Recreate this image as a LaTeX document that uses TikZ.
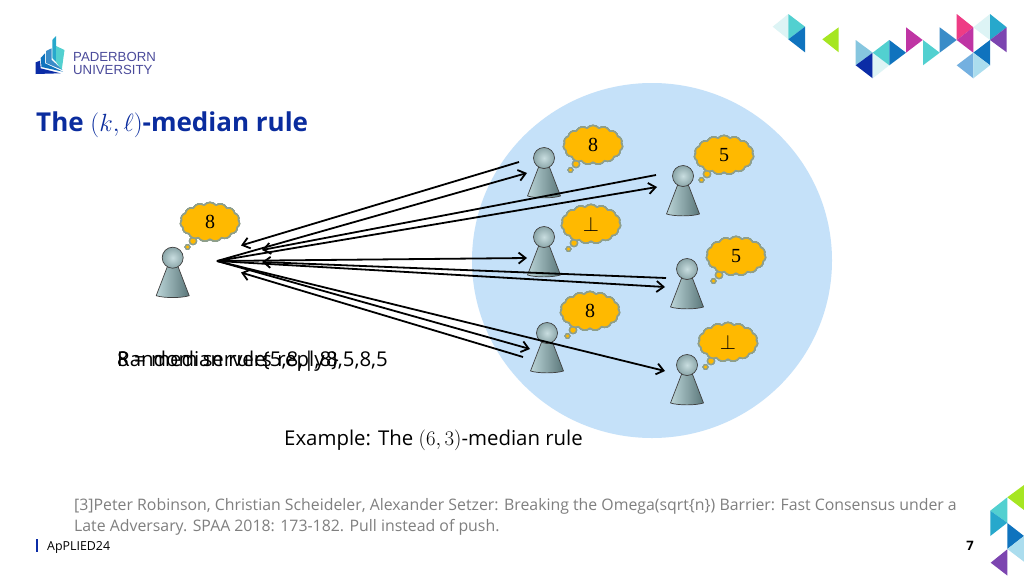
\documentclass[tikz,border=0pt]{standalone}
\usepackage{fontspec}
\usetikzlibrary{shapes.symbols,arrows.meta}
\setmainfont{Open Sans}
\newfontfamily\digitfont{Liberation Serif}
\newfontfamily\logofont{Liberation Sans}
\definecolor{titleblue}{HTML}{0A2C9E}
\definecolor{discblue}{HTML}{C5E1F9}
\definecolor{cloudfill}{HTML}{FFB900}
\definecolor{cloudedge}{HTML}{8E9F8C}
\definecolor{pawnlight}{HTML}{BBD5D8}
\definecolor{pawndark}{HTML}{5A7679}
\definecolor{footgray}{HTML}{7F7F7F}
\definecolor{logotext}{HTML}{4B4B9B}
\definecolor{tblue}{HTML}{0F73BE}
\definecolor{tteal}{HTML}{52D0D0}
\definecolor{tpale}{HTML}{DDF4F5}
\definecolor{tlime}{HTML}{A6E622}
\definecolor{tnavy}{HTML}{0B2CA6}
\definecolor{tmag}{HTML}{BF35A4}
\definecolor{tpink}{HTML}{EE3C85}
\definecolor{tpurple}{HTML}{7C45B0}
\definecolor{tsky}{HTML}{86C6DF}
\definecolor{tmid}{HTML}{3A8CC8}
\definecolor{ttb}{HTML}{27A8CC}
\definecolor{tlt}{HTML}{74B0E0}
\definecolor{tpb}{HTML}{ABDDEE}
\tikzset{
  thought/.style={cloud,cloud puffs=15,cloud puff arc=100,aspect=1.6,draw=cloudedge,fill=cloudfill,line width=1.5pt,
    minimum width=59pt,minimum height=39pt,inner sep=0pt,font=\digitfont\fontsize{20}{24}\selectfont},
  puff/.style={circle,draw=cloudedge,fill=cloudfill,line width=1.2pt,inner sep=0pt},
  msg/.style={-{Straight Barb[length=7pt,width=11pt]},line width=1.8pt,black},
  body/.style={font=\fontsize{20.4}{24}\selectfont,anchor=base west,inner sep=0pt},
  foot/.style={font=\fontsize{15.85}{20}\selectfont,anchor=base west,inner sep=0pt,text=footgray},
}
\newcommand{\pawn}[3]{%
  \draw[draw=black!75,line width=.7pt,left color=pawnlight,right color=pawndark,shading angle=90]
    (#2-5,#3+8)--(#2-16.5,#3+38).. controls (#2-8,#3+40.5) and (#2+8,#3+40.5) ..(#2+16.5,#3+38)--(#2+5,#3+8)--cycle;
  \node[circle,draw=black!75,line width=.7pt,inner sep=0pt,minimum size=21pt,
    inner color=pawnlight!80!white,outer color=pawndark!50!pawnlight] (#1) at (#2,#3) {};
}
\newcommand{\tri}[4]{\fill[#1] #2--#3--#4--cycle;}
\begin{document}
\begin{tikzpicture}[x=1pt,y=-1pt,line join=round]
\useasboundingbox (0,0) rectangle (1024,576);
\fill[white] (0,0) rectangle (1024,576);
% logo
\fill[tnavy] (35.7,62.3)--(40,60.7)--(40.7,68.3)--(60.7,73.3)--(35.7,74)--cycle;
\fill[tblue] (40.7,58)--(45,53.3)--(45,63.3)--(63,71.7)--(41.5,67)--cycle;
\fill[tmid] (46,51)--(51.7,48.3)--(51.7,60)--(62.7,70)--(46,63)--cycle;
\fill[ttb] (52.3,40)--(56,36)--(56,62)--(52.3,58)--cycle;
\fill[tteal] (56,46)--(64.5,50)--(61.7,70)--(56,62)--cycle;
\node[anchor=base west,inner sep=0pt,text=logotext,font=\logofont\fontsize{13.2}{14}\selectfont] (logoa) at (73,61) {PADERBORN};
\node[anchor=base west,inner sep=0pt,text=logotext,font=\logofont\fontsize{13.2}{14}\selectfont] (logob) at (73,74) {UNIVERSITY};
% corner triangles
\tri{tpale}{(772.7,26.7)}{(788.3,14)}{(788.3,39.3)}
\tri{tteal}{(788.3,14)}{(805,26.7)}{(788.3,39.3)}
\tri{tblue}{(788.3,39.3)}{(805,26.7)}{(805,52.3)}
\tri{tlime}{(822.3,39.3)}{(838.7,27.3)}{(838.7,52.3)}
\tri{tsky}{(855.7,40)}{(872.7,52.7)}{(855.7,65.3)}
\tri{tnavy}{(855.7,65.3)}{(872.7,52.7)}{(872.7,78.3)}
\tri{tpale}{(872.7,52.7)}{(889.3,65.3)}{(872.7,78.3)}
\tri{tteal}{(872.7,52.7)}{(889.3,40)}{(889.3,65.3)}
\tri{tblue}{(889.3,40)}{(906,52.7)}{(889.3,65.3)}
\tri{tmag}{(906,27.3)}{(922.7,40)}{(906,52.7)}
\tri{tteal}{(923,40)}{(939.7,52.7)}{(923,65.3)}
\tri{tmid}{(939.7,27.3)}{(956.7,40)}{(939.7,52.7)}
\tri{tpink}{(956.7,14)}{(973.3,27.3)}{(956.7,40)}
\tri{tmag}{(956.7,40)}{(973.3,27.3)}{(973.3,52.7)}
\tri{tpale}{(973.3,27.3)}{(990,14)}{(990,40)}
\tri{ttb}{(990,14)}{(1006.7,27.3)}{(990,40)}
\tri{tpurple}{(990,40)}{(1006.7,27.3)}{(1006.7,52.3)}
\tri{tblue}{(973.3,52.7)}{(990,40)}{(990,65.3)}
\tri{tlt}{(956.7,65.3)}{(973.3,52.7)}{(973.3,78.3)}
\tri{tpb}{(973.3,52.7)}{(990,65.3)}{(973.3,78.3)}
\tri{tlime}{(1007.3,497.3)}{(1024,485)}{(1024,510)}
\tri{tteal}{(990.3,510.7)}{(1007.3,497.3)}{(1007.3,522.7)}
\tri{ttb}{(990.3,510.7)}{(1007.3,522.7)}{(990.3,536)}
\tri{tblue}{(1007.3,523)}{(1024,536)}{(1007.3,549)}
\tri{tpb}{(1007.3,549)}{(1024,536)}{(1024,561.7)}
\tri{tpurple}{(990.7,562.7)}{(1007.3,549.3)}{(1007.3,575.5)}
% title and disc
\node[anchor=base west,inner sep=0pt,text=titleblue,font=\fontsize{26}{30}\selectfont\bfseries] (title) at (36,131) {The $(k,\ell)$-median rule};
\fill[discblue] (652,260.5) ellipse (180 and 177.5);
% pawns
\foreach \name/\x/\y in {client/172.7/257.7,srva/544/158,srvb/683/176,srvc/544/237,srvd/687/269,srve/547/333,srvf/687/365}
  \pawn{\name}{\x}{\y}
% thoughts
\foreach \name/\x/\y/\val in {cla/210/222/8,clb/593/145/8,clc/724/155/5,cld/591/224/$\bot$,cle/736/256/5,clf/590/311/8,clg/728/342/$\bot$}{
  \node[puff,minimum size=7pt] at (\x-17,\y+19) {};
  \node[puff,minimum size=4.5pt] at (\x-22.5,\y+25) {};
  \node[thought] (\name) at (\x,\y) {\val};
}
% messages
\coordinate (hub) at (217,261);
\coordinate (ina) at (527,173);
\coordinate (outa) at (519,162);
\coordinate (backa) at (241,245.5);
\coordinate (inb) at (657,187);
\coordinate (outb) at (656,175);
\coordinate (backb) at (262,250);
\coordinate (inc) at (527,258);
\coordinate (ind) at (665,287);
\coordinate (outd) at (666,278);
\coordinate (backd) at (262,262);
\coordinate (ine) at (530,349);
\coordinate (oute) at (523,357);
\coordinate (backe) at (241,272.5);
\coordinate (inf) at (665,371);
\foreach \a/\b in {hub/ina,outa/backa,hub/inb,outb/backb,hub/inc,hub/ind,outd/backd,hub/ine,oute/backe,hub/inf}
  \draw[msg] (\a)--(\b);
% overlapping captions
\node[body] (capa) at (117,366.5) {Random servers reply};
\node[body] (capb) at (117,366.5) {8 = median rule};
\node[body] (capd) at (262,366.5) {\{5,8,|,8\}};
\node[body] (capc) at (326,366.5) {8,5,8,5};
\node[body] (example) at (284,445) {Example: The $(6,3)$-median rule};
% footer
\node[foot] (refa) at (74,510) {[3]Peter Robinson, Christian Scheideler, Alexander Setzer: Breaking the Omega(sqrt\{n\}) Barrier: Fast Consensus under a};
\node[foot] (refb) at (74,531) {Late Adversary. SPAA 2018: 173-182. Pull instead of push.};
\fill[tnavy] (35.5,539) rectangle (37.5,552);
\node[anchor=base west,inner sep=0pt,font=\fontsize{12.4}{15}\selectfont] (conf) at (47,550) {ApPLIED24};
\node[anchor=base,inner sep=0pt,font=\fontsize{13}{14}\selectfont\bfseries] (page) at (970,550) {7};
\end{tikzpicture}
\end{document}
